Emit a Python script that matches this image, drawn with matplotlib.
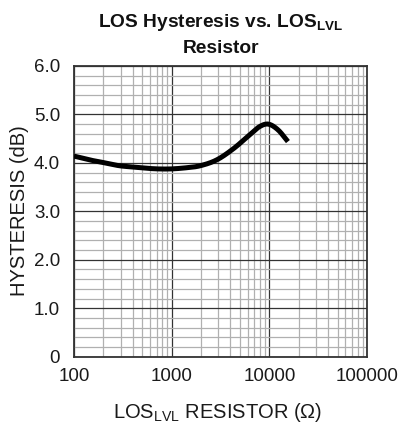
import matplotlib
matplotlib.use("Agg")
import matplotlib.pyplot as plt
import numpy as np
from matplotlib.ticker import FixedLocator, NullFormatter

plt.rcParams['font.family'] = ['Liberation Sans', 'DejaVu Sans']
plt.rcParams['mathtext.fontset'] = 'custom'
plt.rcParams['mathtext.rm'] = 'Liberation Sans'
plt.rcParams['mathtext.bf'] = 'Liberation Sans:bold'

# Data
resistor = [100, 146, 208, 295, 437, 650, 960, 1420, 1950, 2880, 4270, 6300, 7960, 9790, 12300, 15500]
hysteresis = [4.14, 4.06, 4.00, 3.94, 3.91, 3.88, 3.875, 3.90, 3.94, 4.06, 4.29, 4.58, 4.75, 4.80, 4.68, 4.44]

x_ticks = [100, 1000, 10000, 100000]
x_tick_labels = ["100", "1000", "10000", "100000"]
y_ticks = [0, 1, 2, 3, 4, 5, 6]
y_tick_labels = ["0", "1.0", "2.0", "3.0", "4.0", "5.0", "6.0"]


def hermite_smooth(xs, ys, n=400):
    xs = np.asarray(xs, float)
    ys = np.asarray(ys, float)
    m = np.zeros_like(ys)
    m[1:-1] = (ys[2:] - ys[:-2]) / (xs[2:] - xs[:-2])
    m[0] = (ys[1] - ys[0]) / (xs[1] - xs[0])
    m[-1] = (ys[-1] - ys[-2]) / (xs[-1] - xs[-2])
    t = np.linspace(xs[0], xs[-1], n)
    idx = np.clip(np.searchsorted(xs, t) - 1, 0, len(xs) - 2)
    h = xs[idx + 1] - xs[idx]
    s = (t - xs[idx]) / h
    h00 = 2 * s**3 - 3 * s**2 + 1
    h10 = s**3 - 2 * s**2 + s
    h01 = -2 * s**3 + 3 * s**2
    h11 = s**3 - s**2
    yv = h00 * ys[idx] + h10 * h * m[idx] + h01 * ys[idx + 1] + h11 * h * m[idx + 1]
    return t, yv


fig = plt.figure(figsize=(4.0, 4.28), dpi=100)
ax = fig.add_axes([0.185, 0.1666, 0.7325, 0.6792])

t, ys = hermite_smooth(np.log10(resistor), hysteresis)
ax.plot(10 ** t, ys, color='black', lw=3.6, solid_capstyle='butt', zorder=5)

ax.set_xscale('log')
ax.set_xlim(100, 100000)
ax.set_ylim(0, 6)

ax.xaxis.set_major_locator(FixedLocator(x_ticks))
ax.set_xticklabels(x_tick_labels)
minor_x = [m * 10 ** d for d in (2, 3, 4) for m in range(2, 10)]
ax.xaxis.set_minor_locator(FixedLocator(minor_x))
ax.xaxis.set_minor_formatter(NullFormatter())
ax.yaxis.set_major_locator(FixedLocator(y_ticks))
ax.set_yticklabels(y_tick_labels)
ax.yaxis.set_minor_locator(FixedLocator([v / 5 for v in range(0, 31) if v % 5]))

ax.grid(True, which='major', color='#333333', lw=0.9)
ax.grid(True, which='minor', color='#b0b0b0', lw=0.9)
ax.set_axisbelow(True)
for s in ax.spines.values():
    s.set_color('#333333')
    s.set_linewidth(1.3)

ax.tick_params(which='both', length=0)
ax.tick_params(axis='x', labelsize=13.5, pad=8, colors='#1a1a1a')
ax.tick_params(axis='y', labelsize=13.5, pad=10, colors='#1a1a1a')

cx = 0.185 + 0.7325 / 2
fig.text(cx, 1 - 27 / 428, r"LOS Hysteresis vs. LOS$_{\mathbf{LVL}}$", ha='center', va='baseline',
         fontsize=13.8, fontweight='bold', color='#111111')
fig.text(cx, 1 - 53 / 428, "Resistor", ha='center', va='baseline',
         fontsize=13.8, fontweight='bold', color='#111111')
fig.text(0.544, 1 - 418 / 428, r"LOS$_{\mathrm{LVL}}$ RESISTOR (Ω)", ha='center', va='baseline',
         fontsize=14.5, color='#1a1a1a')
fig.text(0.05, 1 - 211 / 428, "HYSTERESIS (dB)", rotation=90, ha='center', va='center',
         fontsize=14.5, color='#1a1a1a')

fig.savefig("out.png", dpi=100)
